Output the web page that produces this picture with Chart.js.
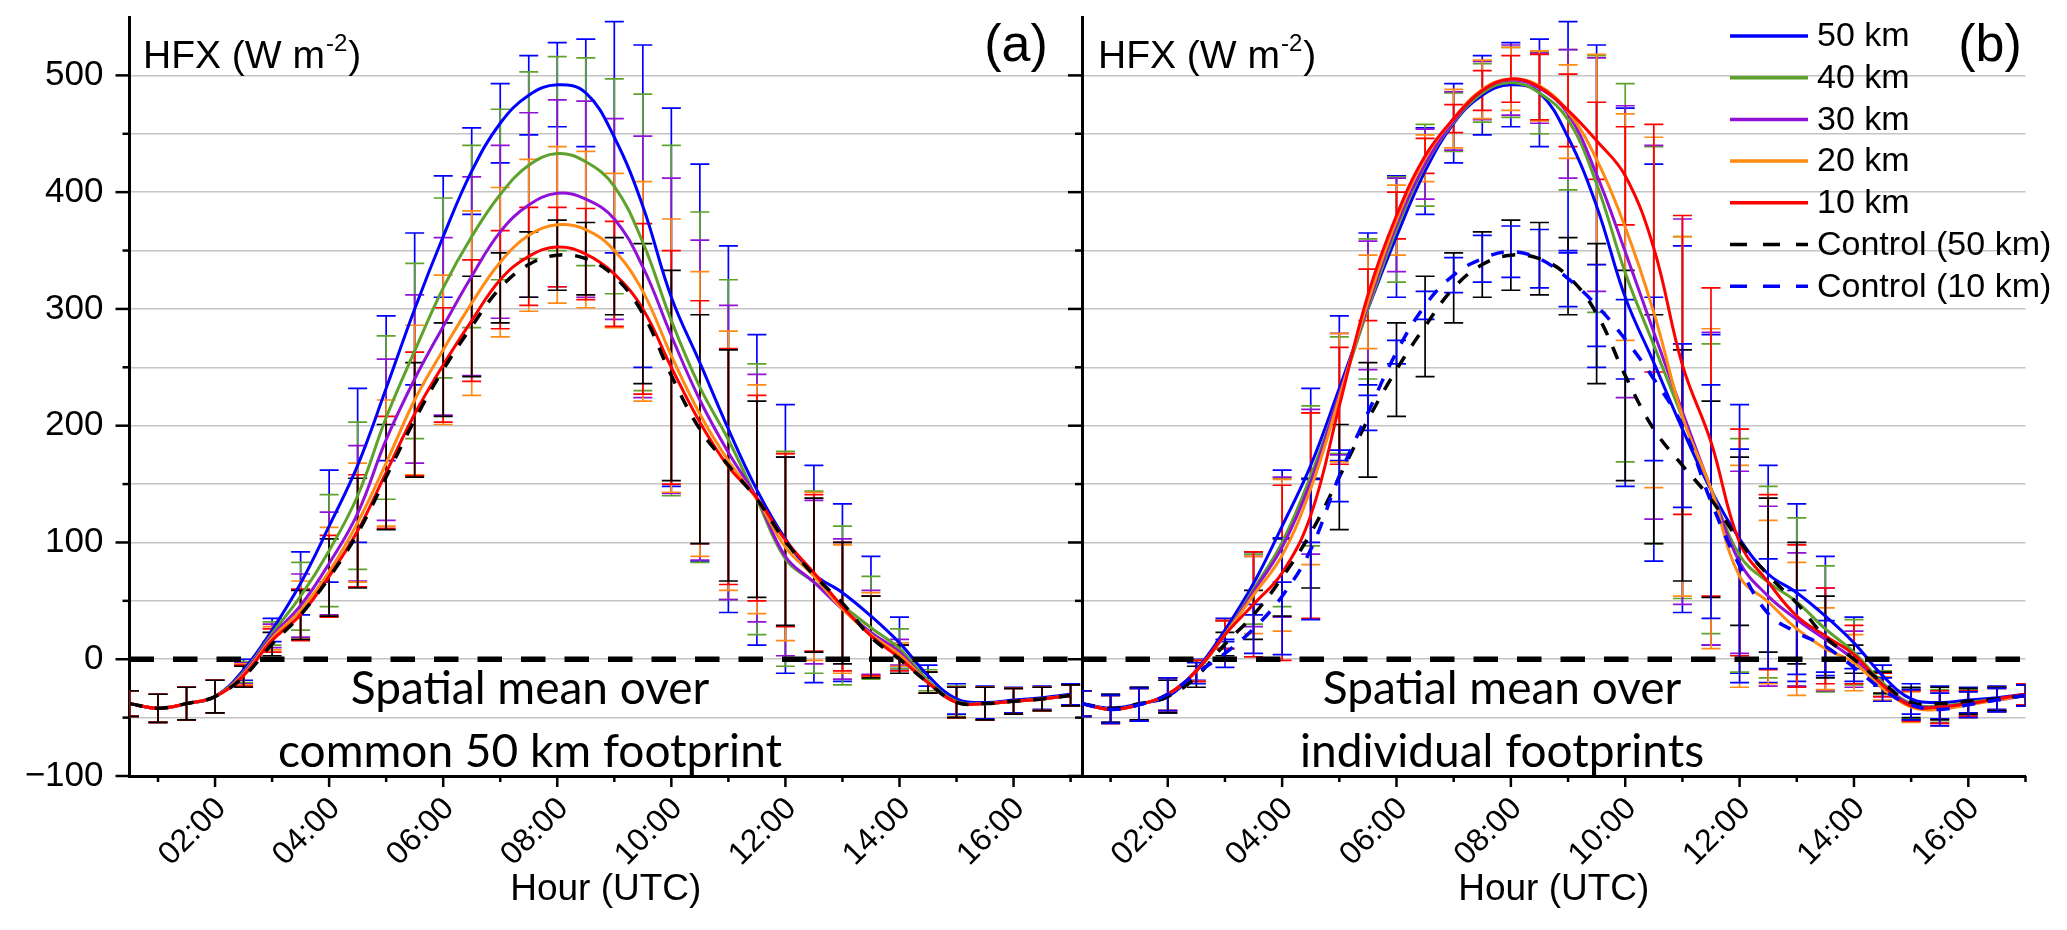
<!DOCTYPE html>
<html>
<head>
<meta charset="utf-8">
<script src="https://cdn.jsdelivr.net/npm/chart.js@4.4.1/dist/chart.umd.min.js"></script>
<style>
  html, body { margin: 0; padding: 0; background: #fff; }
  #wrap { position: relative; width: 2067px; height: 930px; overflow: hidden; background: #fff; }
  #wrap canvas { position: absolute; top: 0; }
  #chartA { left: 0; }
  #chartB { left: 1062px; }
</style>
</head>
<body>
<div id="wrap">
  <canvas id="chartA" width="1083" height="930"></canvas>
  <canvas id="chartB" width="1005" height="930"></canvas>
</div>
<script>
// half-hourly output times (hours UTC)
const hours = [0.5, 1, 1.5, 2, 2.5, 3, 3.5, 4, 4.5, 5, 5.5, 6, 6.5, 7, 7.5, 8, 8.5, 9, 9.5, 10, 10.5, 11, 11.5, 12, 12.5, 13, 13.5, 14, 14.5, 15, 15.5, 16, 16.5, 17];
const hourTicks = [2, 4, 6, 8, 10, 12, 14, 16];
const hourLabels = ['02:00', '04:00', '06:00', '08:00', '10:00', '12:00', '14:00', '16:00'];
const hourMinor = [1, 3, 5, 7, 9, 11, 13, 15, 17];
const yTicks = [-100, -50, 0, 50, 100, 150, 200, 250, 300, 350, 400, 450, 500, 550];
const yLabels = ['\u2212100', '', '0', '', '100', '', '200', '', '300', '', '400', '', '500', null];

// (a) spatial mean over common 50 km footprint
const a50 = [-38, -42, -38, -32, -9, 25, 65, 114, 166, 232, 300, 362, 418, 459, 483, 492, 485, 447, 388, 310, 254, 197, 145, 103, 73, 57, 37, 14, -14, -34, -37, -35, -33, -30];
const a40 = [-38, -42, -38, -32, -11, 22, 54, 93, 140, 207, 264, 318, 362, 398, 423, 433, 426, 405, 357, 290, 233, 188, 137, 86, 66, 46, 27, 9, -18, -36, -38, -36, -34, -31];
const a30 = [-38, -42, -38, -32, -12, 20, 46, 82, 125, 188, 240, 285, 328, 366, 389, 399, 394, 377, 336, 277, 222, 177, 138, 88, 66, 43, 23, 6, -20, -37, -38, -36, -34, -31];
const a20 = [-38, -42, -38, -32, -13, 18, 42, 75, 117, 168, 222, 265, 305, 340, 363, 372, 368, 350, 315, 260, 210, 170, 137, 96, 71, 43, 21, 4, -20, -37, -38, -36, -34, -31];
const a10 = [-38, -42, -38, -32, -14, 16, 38, 71, 110, 160, 210, 252, 290, 325, 345, 353, 347, 330, 300, 250, 203, 165, 138, 102, 74, 45, 20, 1, -20, -37, -38, -36, -34, -31];
const ctrl50 = [-38, -42, -38, -32, -15, 13, 38, 70, 108, 156, 205, 248, 285, 318, 338, 346, 343, 328, 296, 243, 197, 166, 137, 101, 72, 48, 19, 0, -20, -37, -38, -36, -34, -31];

const a50Err = [11, 12, 14, 14, 9, 10, 27, 48, 66, 62, 65, 52, 37, 34, 34, 36, 46, 99, 138, 162, 170, 157, 133, 115, 93, 76, 51, 22, 9, 13, 14, 11, 10, 9];
const a40Err = [11, 12, 14, 14, 9, 10, 29, 48, 63, 70, 75, 77, 78, 73, 80, 83, 89, 92, 127, 150, 150, 137, 116, 92, 78, 68, 44, 17, 9, 13, 14, 11, 10, 9];
const a30Err = [11, 12, 14, 14, 9, 10, 27, 44, 58, 69, 72, 76, 85, 74, 79, 80, 84, 86, 112, 135, 137, 126, 106, 85, 70, 60, 36, 11, 9, 13, 14, 11, 10, 9];
const a20Err = [11, 12, 14, 14, 9, 10, 25, 38, 51, 54, 64, 64, 79, 64, 65, 67, 67, 66, 94, 117, 122, 111, 98, 80, 72, 55, 36, 10, 9, 13, 14, 11, 10, 9];
const a10Err = [11, 12, 14, 14, 9, 10, 22, 35, 48, 48, 53, 49, 52, 42, 42, 34, 39, 45, 73, 100, 104, 101, 88, 74, 67, 55, 34, 11, 9, 13, 14, 11, 10, 9];
const ctrl50Err = [11, 12, 14, 14, 9, 10, 21, 33, 47, 45, 49, 40, 43, 30, 28, 30, 31, 33, 60, 90, 98, 99, 84, 72, 66, 52, 35, 12, 9, 13, 14, 11, 10, 9];

// (b) spatial mean over individual footprints (50 km and control 50 km as in a)
const b40 = [-38, -43, -39, -30, -10, 21, 60, 100, 157, 226, 300, 368, 423, 460, 485, 494, 485, 462, 407, 331, 269, 207, 146, 89, 66, 49, 26, 6, -20, -38, -40, -37, -34, -31];
const b30 = [-38, -43, -39, -30, -10, 21, 58, 96, 152, 227, 303, 372, 424, 461, 487, 496, 489, 467, 415, 349, 280, 212, 146, 83, 54, 34, 17, 0, -22, -39, -41, -38, -35, -31];
const b20 = [-38, -43, -39, -30, -10, 21, 55, 89, 146, 224, 306, 376, 429, 463, 488, 497, 491, 469, 428, 370, 297, 208, 146, 71, 49, 26, 9, -3, -25, -41, -43, -39, -35, -31];
const b10 = [-38, -43, -39, -30, -10, 21, 47, 74, 123, 217, 312, 380, 431, 463, 487, 497, 490, 470, 444, 414, 352, 252, 186, 100, 66, 37, 20, 4, -22, -40, -41, -38, -34, -30];
const ctrl10 = [-38, -43, -39, -30, -12, 5, 26, 54, 94, 157, 211, 263, 303, 329, 343, 349, 343, 326, 303, 274, 240, 200, 135, 80, 39, 23, 11, -7, -26, -39, -43, -39, -35, -31];

const b40Err = [11, 12, 14, 14, 9, 12, 30, 55, 60, 50, 60, 45, 35, 25, 25, 30, 35, 60, 110, 162, 170, 155, 124, 100, 82, 72, 54, 28, 10, 13, 14, 11, 10, 9];
const b30Err = [11, 12, 14, 14, 9, 12, 30, 60, 62, 52, 55, 40, 30, 25, 25, 30, 30, 55, 100, 125, 160, 165, 134, 78, 77, 57, 44, 24, 10, 13, 14, 11, 10, 9];
const b20Err = [11, 12, 14, 14, 9, 12, 33, 65, 65, 55, 40, 30, 20, 25, 25, 27, 30, 40, 90, 97, 150, 154, 137, 95, 70, 57, 35, 24, 10, 13, 14, 11, 10, 9];
const b10Err = [11, 12, 14, 14, 9, 12, 45, 75, 88, 50, 22, 20, 15, 12, 17, 20, 28, 31, 33, 42, 106, 128, 132, 97, 75, 61, 41, 25, 10, 13, 14, 11, 10, 9];
const ctrl10Err = [11, 12, 14, 14, 9, 12, 21, 50, 60, 22, 15, 10, 12, 15, 20, 22, 25, 24, 35, 34, 70, 70, 100, 100, 47, 36, 22, 12, 10, 13, 14, 11, 10, 9];

const COL = { blue: '#0000ff', green: '#5ea22c', purple: '#9112d6', orange: '#ff8a14', red: '#ff0000', black: '#000000' };
const ARIAL = 'Liberation Sans';

function series(label, values, errs, color, dashed, order) {
  return {
    label: label,
    data: hours.map((h, i) => ({ x: h, y: values[i] })),
    err: errs,
    dashed: dashed,
    borderColor: color,
    borderWidth: dashed ? 3.5 : 3,
    borderDash: dashed ? [13, 13] : [],
    pointRadius: 0,
    tension: 0.4,
    fill: false,
    order: order
  };
}

// error bars with caps, drawn under the curves
const errorBars = {
  id: 'errorBars',
  beforeDatasetsDraw(chart) {
    const { ctx, chartArea: ca, scales: { x, y } } = chart;
    ctx.save();
    ctx.beginPath();
    ctx.rect(ca.left, ca.top - 4, ca.right - ca.left, ca.bottom - ca.top + 4);
    ctx.clip();
    ctx.lineWidth = 1.7;
    chart.data.datasets.forEach(ds => {
      ctx.strokeStyle = ds.borderColor;
      ds.data.forEach((p, i) => {
        const px = x.getPixelForValue(p.x);
        const top = y.getPixelForValue(p.y + ds.err[i]);
        const bot = y.getPixelForValue(p.y - ds.err[i]);
        ctx.beginPath();
        ctx.moveTo(px, top); ctx.lineTo(px, bot);
        ctx.moveTo(px - 9.5, top); ctx.lineTo(px + 9.5, top);
        ctx.moveTo(px - 9.5, bot); ctx.lineTo(px + 9.5, bot);
        ctx.stroke();
      });
    });
    ctx.restore();
  }
};

const zeroLine = {
  id: 'zeroLine',
  afterDatasetsDraw(chart) {
    const { ctx, chartArea: ca, scales: { y } } = chart;
    const py = y.getPixelForValue(0);
    ctx.save();
    ctx.strokeStyle = '#000';
    ctx.lineWidth = 5.5;
    ctx.setLineDash([24.5, 19]);
    ctx.beginPath();
    ctx.moveTo(ca.left, py);
    ctx.lineTo(ca.right, py);
    ctx.stroke();
    ctx.restore();
  }
};

// outward major / minor tick marks
const axisTicks = {
  id: 'axisTicks',
  afterDraw(chart) {
    const { ctx, chartArea: ca, scales: { x, y } } = chart;
    ctx.save();
    ctx.strokeStyle = '#000';
    ctx.lineWidth = 2.5;
    yTicks.forEach((v, i) => {
      if (yLabels[i] === null) return;
      const len = yLabels[i] === '' ? 7 : 14;
      const py = y.getPixelForValue(v);
      ctx.beginPath(); ctx.moveTo(ca.left - len, py); ctx.lineTo(ca.left, py); ctx.stroke();
    });
    const tickX = (v, len) => {
      if (v > x.max + 0.01) return;
      const px = x.getPixelForValue(v);
      ctx.beginPath(); ctx.moveTo(px, ca.bottom); ctx.lineTo(px, ca.bottom + len); ctx.stroke();
    };
    hourTicks.forEach(v => tickX(v, 11));
    hourMinor.forEach(v => tickX(v, 6));
    ctx.restore();
  }
};

const panelText = {
  id: 'panelText',
  afterDraw(chart, args, o) {
    const ctx = chart.ctx;
    const ox = o.ox;
    ctx.save();
    ctx.fillStyle = '#000';
    ctx.textBaseline = 'alphabetic';
    // axis quantity label with superscript
    ctx.textAlign = 'left';
    ctx.font = '39px "' + ARIAL + '"';
    const hx = o.hfx[0] - ox, hy = o.hfx[1];
    ctx.fillText('HFX (W m', hx, hy);
    const w1 = ctx.measureText('HFX (W m').width;
    ctx.font = '24px "' + ARIAL + '"';
    ctx.fillText('-2', hx + w1 + 1, hy - 17);
    const w2 = ctx.measureText('-2').width;
    ctx.font = '39px "' + ARIAL + '"';
    ctx.fillText(')', hx + w1 + w2 + 2, hy);
    // panel tag
    ctx.textAlign = 'center';
    ctx.font = '52px "' + ARIAL + '"';
    ctx.fillText(o.tag[0], o.tag[1] - ox, o.tag[2]);
    // footprint note
    ctx.font = '46px Lato';
    o.note.forEach((t, i) => ctx.fillText(t, o.noteX - ox, o.noteY[i]));
    // legend
    if (o.legend) {
      const L = o.legend;
      ctx.textAlign = 'left';
      ctx.textBaseline = 'middle';
      ctx.font = '34px "' + ARIAL + '"';
      chart.data.datasets.forEach((ds, i) => {
        const ly = L.y + i * L.dy;
        ctx.strokeStyle = ds.borderColor;
        ctx.lineWidth = 3.5;
        ctx.setLineDash(ds.dashed ? [17, 16] : []);
        ctx.beginPath();
        ctx.moveTo(L.x0 - ox, ly);
        ctx.lineTo(L.x1 - ox, ly);
        ctx.stroke();
        ctx.fillText(ds.label, L.tx - ox, ly + 1);
      });
      ctx.setLineDash([]);
    }
    ctx.restore();
  }
};

function panelOptions(p) {
  return {
    responsive: false,
    animation: false,
    events: [],
    layout: { padding: { left: 0, right: p.padRight, top: 17, bottom: 0 } },
    plugins: {
      legend: { display: false },
      tooltip: { enabled: false },
      panelText: p.text
    },
    scales: {
      x: {
        type: 'linear',
        min: 0.5,
        max: p.xMax,
        afterBuildTicks: s => { s.ticks = hourTicks.map(v => ({ value: v })); },
        afterFit: s => { s.height = 154; s.paddingLeft = 0; s.paddingRight = 0; },
        grid: { display: false, drawTicks: false },
        border: { display: true, color: '#000', width: 3 },
        ticks: {
          autoSkip: false, minRotation: 45, maxRotation: 45, padding: 14, labelOffset: 6,
          color: '#000', font: { family: ARIAL, size: 32 },
          callback: v => hourLabels[hourTicks.indexOf(v)]
        },
        title: {
          display: true, text: 'Hour (UTC)', color: '#000',
          font: { family: ARIAL, size: 37 }, padding: { top: 0, bottom: 18 }
        }
      },
      y: {
        type: 'linear',
        min: -100,
        max: 550,
        afterBuildTicks: s => { s.ticks = yTicks.map(v => ({ value: v })); },
        afterFit: s => { s.width = p.yWidth; s.paddingTop = 0; s.paddingBottom = 0; },
        grid: {
          color: c => (c.tick && (c.tick.value === 550 || c.tick.value === -100)) ? 'rgba(0,0,0,0)' : '#c4c4c4',
          lineWidth: 1.6, drawTicks: true, tickLength: 20, tickColor: 'rgba(0,0,0,0)'
        },
        border: { display: true, color: '#000', width: 3 },
        ticks: {
          display: p.showY, autoSkip: false, padding: 6, color: '#000',
          font: { family: ARIAL, size: 35 },
          callback: v => yLabels[yTicks.indexOf(v)]
        }
      }
    }
  };
}

const plugins = [errorBars, zeroLine, axisTicks, panelText];

new Chart(document.getElementById('chartA'), {
  type: 'line',
  data: {
    datasets: [
      series('50 km', a50, a50Err, COL.blue, false, 6),
      series('40 km', a40, a40Err, COL.green, false, 5),
      series('30 km', a30, a30Err, COL.purple, false, 4),
      series('20 km', a20, a20Err, COL.orange, false, 3),
      series('10 km', a10, a10Err, COL.red, false, 2),
      series('Control (50 km)', ctrl50, ctrl50Err, COL.black, true, 0)
    ]
  },
  options: panelOptions({
    xMax: 17.2, showY: true, yWidth: 129.5, padRight: 1,
    text: {
      ox: 0,
      hfx: [143, 68],
      tag: ['(a)', 1016, 61],
      note: ['Spatial mean over', 'common 50 km footprint'],
      noteX: 530, noteY: [704, 767]
    }
  }),
  plugins: plugins
});

new Chart(document.getElementById('chartB'), {
  type: 'line',
  data: {
    datasets: [
      series('50 km', a50, a50Err, COL.blue, false, 6),
      series('40 km', b40, b40Err, COL.green, false, 5),
      series('30 km', b30, b30Err, COL.purple, false, 4),
      series('20 km', b20, b20Err, COL.orange, false, 3),
      series('10 km', b10, b10Err, COL.red, false, 2),
      series('Control (50 km)', ctrl50, ctrl50Err, COL.black, true, 1),
      series('Control (10 km)', ctrl10, ctrl10Err, COL.blue, true, 0)
    ]
  },
  options: panelOptions({
    xMax: 17.0, showY: false, yWidth: 20, padRight: 41.5,
    text: {
      ox: 1062,
      hfx: [1098, 68],
      tag: ['(b)', 1990, 61],
      note: ['Spatial mean over', 'individual footprints'],
      noteX: 1502, noteY: [704, 767],
      legend: { x0: 1730, x1: 1808, tx: 1817, y: 36, dy: 41.7 }
    }
  }),
  plugins: plugins
});
</script>
</body>
</html>
